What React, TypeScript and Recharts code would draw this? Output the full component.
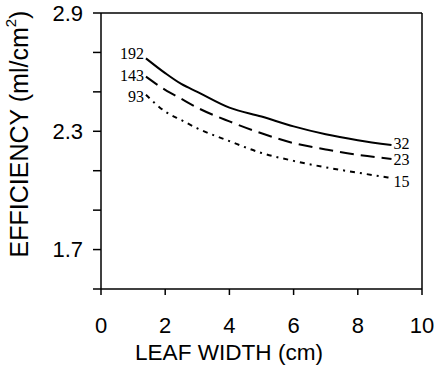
import React from "react";
import { LineChart, Line, XAxis, YAxis, ReferenceLine, LabelList } from "recharts";

// leaf width (cm) and efficiency (ml/cm2) for the three curves
const leafWidth = [1.4, 2, 2.5, 3, 4, 5, 6, 7, 8, 9.05];
const eff192 = [2.67, 2.595, 2.54, 2.5, 2.42, 2.375, 2.325, 2.285, 2.255, 2.23];
const eff143 = [2.577, 2.51, 2.465, 2.42, 2.35, 2.29, 2.24, 2.208, 2.18, 2.16];
const eff93 = [2.485, 2.4, 2.357, 2.315, 2.25, 2.19, 2.15, 2.117, 2.09, 2.063];

const startLabels = ["192", "143", "93"];
const endLabels = ["32", "23", "15"];

const xTicks = [0, 2, 4, 6, 8, 10];
const yTicks = [1.5, 1.7, 1.9, 2.1, 2.3, 2.5, 2.7, 2.9];
const yTickLabels = ["", "1.7", "", "", "2.3", "", "", "2.9"];

const data = leafWidth.map((x, i) => ({
  x,
  a: eff192[i],
  b: eff143[i],
  c: eff93[i],
}));

const series = [
  { key: "a", dash: undefined, startDy: -5, endDy: -2 },
  { key: "b", dash: "14 7", startDy: -1, endDy: 1 },
  { key: "c", dash: "5 5 2 5", startDy: 2, endDy: 3 },
];

const sans = "'Liberation Sans', Arial, sans-serif";
const serif = "'Liberation Serif', 'Times New Roman', serif";

const endLabel = (idx: number, s: (typeof series)[number]) => (props: any) => {
  const { x, y, index } = props;
  if (index === 0) {
    return (
      <text x={x - 2} y={y + s.startDy} textAnchor="end" dominantBaseline="central"
        fontFamily={serif} fontSize={16} fill="#000">
        {startLabels[idx]}
      </text>
    );
  }
  if (index === data.length - 1) {
    return (
      <text x={x + 2} y={y + s.endDy} textAnchor="start" dominantBaseline="central"
        fontFamily={serif} fontSize={16} fill="#000">
        {endLabels[idx]}
      </text>
    );
  }
  return null;
};

export default function App() {
  return (
    <div style={{ position: "absolute", left: 0, top: 0, background: "#fff", width: 436, height: 372 }}>
      <LineChart
        width={436}
        height={372}
        data={data}
        margin={{ top: 13, right: 14, bottom: 0, left: 0 }}
      >
        <XAxis
          dataKey="x"
          type="number"
          domain={[0, 10]}
          ticks={xTicks}
          interval={0}
          height={83}
          tickSize={6}
          tickMargin={22}
          stroke="#000"
          strokeWidth={1.5}
          tick={{ fill: "#000", fontSize: 22, fontFamily: sans }}
          label={{
            content: (p: any) => (
              <text x={229} y={352} textAnchor="middle"
                dominantBaseline="central" fontFamily={sans} fontSize={22} fill="#000"
                textLength={188} lengthAdjust="spacingAndGlyphs">
                LEAF WIDTH (cm)
              </text>
            ),
          }}
        />
        <YAxis
          type="number"
          domain={[1.5, 2.9]}
          ticks={yTicks}
          interval={0}
          width={101}
          tickSize={8}
          tickMargin={10}
          stroke="#000"
          strokeWidth={1.5}
          tickFormatter={(v: number) => yTickLabels[yTicks.indexOf(v)] ?? ""}
          tick={{ fill: "#000", fontSize: 22, fontFamily: sans }}
          label={{
            content: () => (
              <text x={19} y={134} textAnchor="middle" dominantBaseline="central"
                transform="rotate(-90 19 134)" fontFamily={sans} fontSize={25} fill="#000">
                EFFICIENCY (ml/cm
                <tspan fontSize={15} dy={-9}>2</tspan>
                <tspan dy={9}>)</tspan>
              </text>
            ),
          }}
        />
        <ReferenceLine y={2.9} stroke="#000" strokeWidth={1.5} />
        <ReferenceLine x={10} stroke="#000" strokeWidth={1.5} />
        {series.map((s, i) => (
          <Line
            key={s.key}
            dataKey={s.key}
            type="monotone"
            stroke="#000"
            strokeWidth={2}
            strokeDasharray={s.dash}
            dot={false}
            isAnimationActive={false}
          >
            <LabelList dataKey={s.key} content={endLabel(i, s)} />
          </Line>
        ))}
      </LineChart>
    </div>
  );
}
